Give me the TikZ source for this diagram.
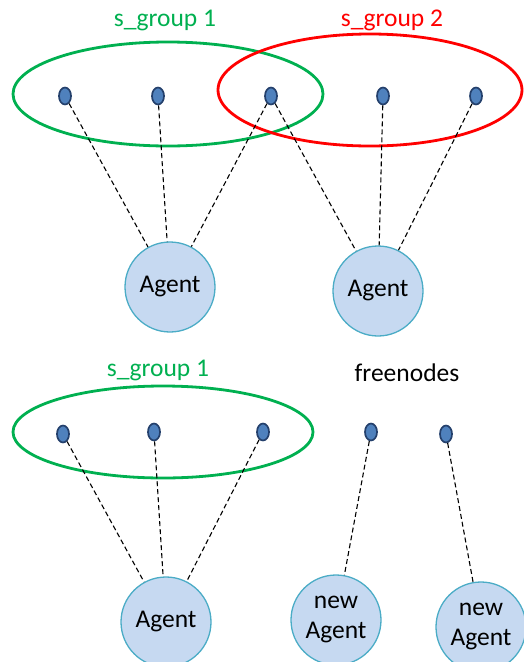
\documentclass[tikz,border=0pt]{standalone}
\usepackage{fontspec}
\setmainfont{Carlito}
\usetikzlibrary{shapes.geometric}
\definecolor{sgreen}{HTML}{00B050}
\definecolor{sred}{HTML}{FF0000}
\definecolor{dotfill}{HTML}{4F81BD}
\definecolor{dotline}{HTML}{24406C}
\definecolor{agentfill}{HTML}{C6D9F1}
\definecolor{agentline}{HTML}{4BACC6}

\begin{document}
\begin{tikzpicture}[x=1pt,y=-1pt,
  dot/.style={ellipse,draw=dotline,fill=dotfill,line width=1.7pt,minimum width=12pt,minimum height=17pt,inner sep=0pt},
  agent/.style={circle,draw=agentline,fill=agentfill,line width=1.3pt,minimum size=90pt,inner sep=0pt,align=center,font=\fontsize{25.5}{30}\selectfont},
  link/.style={line width=1.1pt,dash pattern=on 5pt off 3pt},
  grp/.style={line width=2.8pt},
  lbl/.style={font=\fontsize{25.5}{28}\selectfont}]
\useasboundingbox (0,0) rectangle (524,662);
% upper half: two overlapping groups
\draw[grp,sgreen] (168,94) ellipse [x radius=155,y radius=52];
\draw[grp,sred] (370,90) ellipse [x radius=152,y radius=56];
\node[lbl,text=sgreen] (g1) at (165,20) {s\_group 1};
\node[lbl,text=sred] (g2) at (392,20) {s\_group 2};
\node[dot] (u1) at (65,96) {};
\node[dot] (u2) at (158,96) {};
\node[dot] (u3) at (271,96) {};
\node[dot] (u4) at (383,96) {};
\node[dot] (u5) at (476,96) {};
\node[agent] (a1) at (170,287) {Agent};
\node[agent] (a2) at (378,291) {Agent};
\draw[link] (u1) -- (a1) (u2) -- (a1) (u3) -- (a1);
\draw[link] (u3) -- (a2) (u4) -- (a2) (u5) -- (a2);
% lower half: group and free nodes
\draw[grp,sgreen] (163,432) ellipse [x radius=150,y radius=46];
\node[lbl,text=sgreen] (g3) at (158,370) {s\_group 1};
\node[lbl] (fr) at (407,373) {freenodes};
\node[dot] (v1) at (63,434) {};
\node[dot] (v2) at (154,432) {};
\node[dot] (v3) at (263,432) {};
\node[dot] (v4) at (371,432) {};
\node[dot] (v5) at (446,434) {};
\node[agent] (a3) at (166,622) {Agent};
\node[agent] (n1) at (336,620) {new\\Agent};
\node[agent] (n2) at (481,627) {new\\Agent};
\draw[link] (v1) -- (a3) (v2) -- (a3) (v3) -- (a3);
\draw[link] (v4) -- (n1) (v5) -- (n2.100);
\end{tikzpicture}
\end{document}
